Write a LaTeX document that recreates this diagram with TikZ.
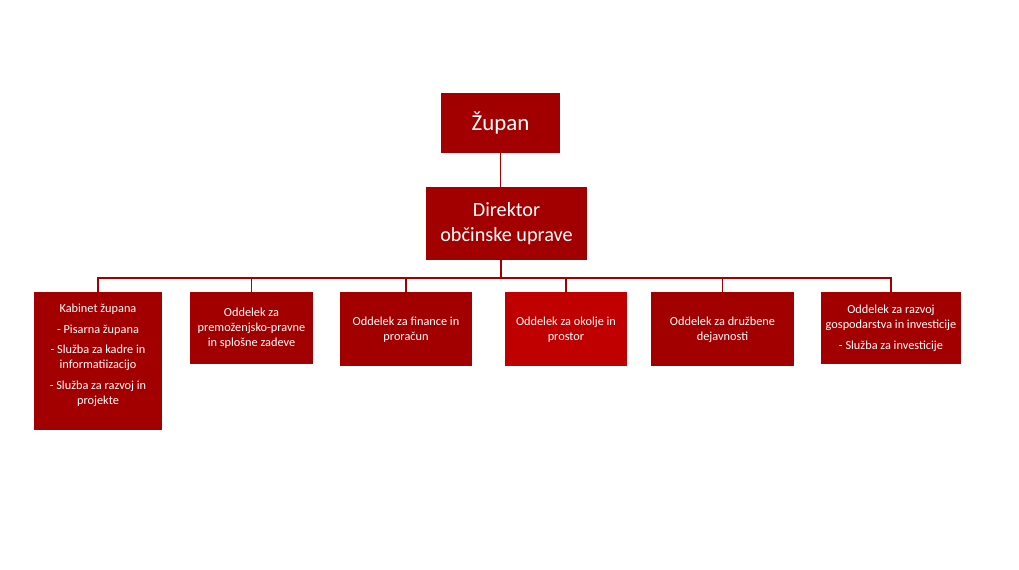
\documentclass[tikz,border=0pt]{standalone}
\usepackage{fontspec}
\setmainfont{Carlito}
\definecolor{darkred}{HTML}{A20000}
\definecolor{brightred}{HTML}{C00000}
\begin{document}
\begin{tikzpicture}
    [
        x=0.02cm, y=-0.02cm,
        box/.style = {fill=darkred, text=white, shape=rectangle, inner sep=0pt, align=center},
        unit/.style = {box, font=\fontsize{7}{8.6}\selectfont, minimum height=1.44cm},
        link/.style = {draw=darkred, line width=0.6pt},
    ]

    \useasboundingbox (0,0) rectangle (1019,569);

    \node[box, minimum width=2.38cm, minimum height=1.2cm, font=\fontsize{13}{15}\selectfont] (zupan) at (500.5,123) {Župan};
    \node[box, minimum width=3.22cm, minimum height=1.46cm, font=\fontsize{11.5}{14}\selectfont] (direktor) at (506.5,223.5) {Direktor\\občinske uprave};

    \node[unit, minimum width=2.56cm, minimum height=2.76cm, anchor=north] (kabinet) at (98,292) {};
    \node[font=\fontsize{7}{8.6}\selectfont, text=white, align=center, anchor=north] (kabinettext) at (98,298)
        {Kabinet župana\\[3pt]- Pisarna župana\\[3pt]- Služba za kadre in\\informatiizacijo\\[3pt]- Služba za razvoj in\\projekte};
    \node[unit, minimum width=2.46cm, anchor=north] (premozenje) at (251.5,292) {Oddelek za\\premoženjsko-pravne\\in splošne zadeve};
    \node[unit, minimum width=2.66cm, minimum height=1.48cm, anchor=north] (finance) at (406,292) {Oddelek za finance in\\proračun};
    \node[unit, minimum width=2.44cm, minimum height=1.48cm, anchor=north, fill=brightred] (okolje) at (566,292) {Oddelek za okolje in\\prostor};
    \node[unit, minimum width=2.86cm, minimum height=1.48cm, anchor=north] (druzbene) at (722.5,292) {Oddelek za družbene\\dejavnosti};
    \node[unit, minimum width=2.8cm, anchor=north] (razvoj) at (891,292) {Oddelek za razvoj\\gospodarstva in investicije\\[3pt]- Služba za investicije};

    \coordinate (bus) at (501,278);

    \draw[link] (zupan.south) -- (zupan.south |- direktor.north);
    \draw[link] (bus |- direktor.south) -- (bus);
    \foreach \unit in {kabinet, premozenje, finance, okolje, druzbene, razvoj}
        \draw[link] (bus) -| (\unit.north);

\end{tikzpicture}
\end{document}
